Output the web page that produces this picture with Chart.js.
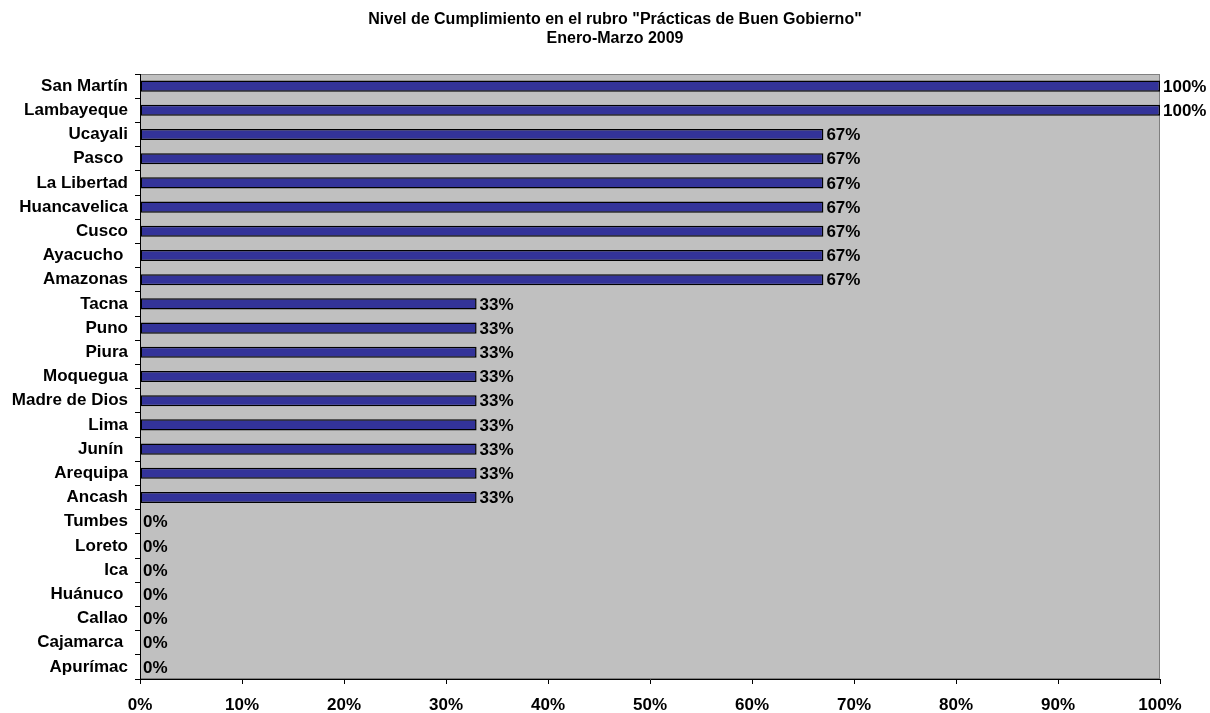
<!DOCTYPE html>
<html>
<head>
<meta charset="utf-8">
<script src="https://cdn.jsdelivr.net/npm/chart.js@4"></script>
<style>
  html, body { margin: 0; padding: 0; background: #fff; }
  #wrap { width: 1210px; height: 713px; }
</style>
</head>
<body>
<div id="wrap"><canvas id="barChart"></canvas></div>
<script>
const regiones = [
    "San Martín", "Lambayeque", "Ucayali", "Pasco ", "La Libertad",
    "Huancavelica", "Cusco", "Ayacucho ", "Amazonas", "Tacna",
    "Puno", "Piura", "Moquegua", "Madre de Dios", "Lima",
    "Junín ", "Arequipa", "Ancash", "Tumbes", "Loreto",
    "Ica", "Huánuco ", "Callao", "Cajamarca ", "Apurímac"
];
const cumplimiento = [
    100, 100, 67, 67, 67,
    67, 67, 67, 67, 33,
    33, 33, 33, 33, 33,
    33, 33, 33, 0, 0,
    0, 0, 0, 0, 0
];
const tituloLineas = ['Nivel de Cumplimiento en el rubro "Prácticas de Buen Gobierno"', 'Enero-Marzo 2009'];
const ticksX = [0, 10, 20, 30, 40, 50, 60, 70, 80, 90, 100];

const FONT = "'Liberation Sans', Arial, sans-serif";

// fondo gris del area de trazado + titulo
const fondoPlugin = {
    id: 'fondo',
    beforeDraw(chart) {
        const { ctx, chartArea: a } = chart;
        ctx.save();
        ctx.fillStyle = '#c0c0c0';
        ctx.fillRect(a.left, a.top, a.right - a.left, a.bottom - a.top);
        ctx.strokeStyle = '#808080';
        ctx.lineWidth = 1;
        ctx.strokeRect(a.left + 0.5, a.top + 0.5, a.right - a.left - 1, a.bottom - a.top - 1);
        ctx.fillStyle = '#000';
        ctx.font = 'bold 16px ' + FONT;
        ctx.textAlign = 'center';
        ctx.textBaseline = 'middle';
        ctx.fillText(tituloLineas[0], 615, 20);
        ctx.fillText(tituloLineas[1], 615, 39);
        ctx.restore();
    }
};

// etiquetas de valor al final de cada barra
const etiquetasPlugin = {
    id: 'etiquetas',
    afterDatasetsDraw(chart) {
        const { ctx } = chart;
        const meta = chart.getDatasetMeta(0);
        ctx.save();
        ctx.fillStyle = '#000';
        ctx.font = 'bold 17px ' + FONT;
        ctx.textAlign = 'left';
        ctx.textBaseline = 'middle';
        meta.data.forEach((bar, i) => {
            ctx.fillText(cumplimiento[i] + '%', bar.x + 3, bar.y + 1);
        });
        ctx.restore();
    }
};

const ctx = document.getElementById('barChart').getContext('2d');
const myChart = new Chart(ctx, {
    type: 'bar',
    data: {
        labels: regiones,
        datasets: [{
            data: cumplimiento,
            backgroundColor: '#333399',
            borderColor: '#000',
            borderWidth: 1.5,
            borderSkipped: false,
            barPercentage: 0.46,
            categoryPercentage: 1
        }]
    },
    options: {
        indexAxis: 'y',
        responsive: true,
        maintainAspectRatio: false,
        animation: false,
        layout: { padding: { top: 74, right: 50, left: 0, bottom: 0 } },
        plugins: {
            legend: { display: false },
            title: { display: false },
            tooltip: { enabled: false }
        },
        scales: {
            x: {
                min: 0,
                max: 100,
                afterBuildTicks(scale) {
                    scale.ticks = ticksX.map(v => ({ value: v }));
                },
                afterFit(scale) { scale.height = 34; },
                grid: { drawOnChartArea: false, tickLength: 5, color: '#000' },
                border: { color: '#000', width: 1 },
                ticks: {
                    color: '#000',
                    font: { family: FONT, size: 17, weight: 'bold' },
                    padding: 11,
                    maxRotation: 0,
                    callback: v => v + '%'
                }
            },
            y: {
                afterFit(scale) { scale.width = 140; },
                grid: { drawOnChartArea: false, tickLength: 5, color: '#000', offset: true },
                border: { color: '#000', width: 1 },
                ticks: {
                    color: '#000',
                    font: { family: FONT, size: 17, weight: 'bold' },
                    padding: 7,
                    autoSkip: false
                }
            }
        }
    },
    plugins: [fondoPlugin, etiquetasPlugin]
});
</script>
</body>
</html>
